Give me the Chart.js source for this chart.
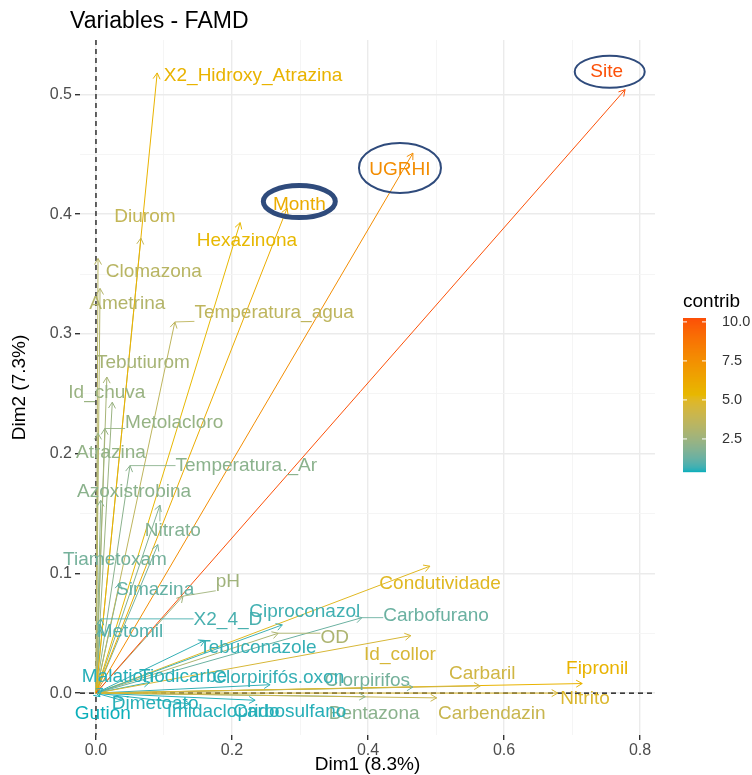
<!DOCTYPE html>
<html>
<head>
<meta charset="utf-8">
<script src="https://cdn.jsdelivr.net/npm/chart.js@4.4.1/dist/chart.umd.min.js"></script>
<style>
  html, body { margin: 0; padding: 0; background: #fff; }
</style>
</head>
<body>
<canvas id="famdChart" width="752" height="775"></canvas>
<script>
const variables = ['Site', 'UGRHI', 'Month', 'Hexazinona', 'X2_Hidroxy_Atrazina', 'Diurom', 'Clomazona',
  'Ametrina', 'Temperatura_agua', 'Tebutiurom', 'Id_chuva', 'Metolacloro', 'Atrazina', 'Temperatura._Ar',
  'Azoxistrobina', 'Nitrato', 'Tiametoxam', 'Simazina', 'pH', 'X2_4_D', 'Metomil', 'Ciproconazol',
  'Carbofurano', 'Tebuconazole', 'OD', 'Condutividade', 'Id_collor', 'Carbaril', 'Fipronil', 'Nitrito',
  'Carbendazin', 'Bentazona', 'Clorpirifos', 'Clorpirifós.oxon', 'Carbosulfano', 'Imidacloprido',
  'Dimetoato', 'Gution', 'Malation', 'Tiodicarbe'];
const dim1 = [0.778, 0.466, 0.281, 0.212, 0.090, 0.066, 0.003,
  0.006, 0.116, 0.016, 0.024, 0.013, 0.003, 0.050,
  0.007, 0.094, 0.091, 0.035, 0.128, 0.007, 0.006, 0.274,
  0.391, 0.160, 0.268, 0.491, 0.463, 0.565, 0.715, 0.679,
  0.501, 0.396, 0.466, 0.256, 0.234, 0.138,
  0.038, 0.006, 0.010, 0.079];
const dim2 = [0.504, 0.451, 0.405, 0.393, 0.518, 0.380, 0.363,
  0.338, 0.310, 0.264, 0.243, 0.221, 0.217, 0.190,
  0.161, 0.157, 0.124, 0.092, 0.081, 0.062, 0.053, 0.057,
  0.063, 0.044, 0.050, 0.106, 0.048, 0.006, 0.008, 0.000,
  -0.004, -0.003, 0.005, 0.007, -0.006, -0.009,
  -0.006, -0.003, 0.004, 0.009];
const contrib = [10.2, 7.6, 6.0, 5.3, 5.6, 3.8, 3.4,
  3.2, 3.6, 2.8, 2.4, 2.3, 2.2, 2.0,
  2.0, 1.8, 1.5, 1.2, 2.6, 0.8, 0.9, 0.7,
  1.3, 0.6, 3.0, 5.0, 4.6, 4.3, 5.6, 4.8,
  4.0, 2.0, 1.5, 0.6, 0.5, 0.5,
  0.5, 0.4, 0.5, 0.5];
// where ggrepel put each label (data units)
const labelDim1 = [0.751, 0.447, 0.299, 0.222, 0.231, 0.072, 0.085,
  0.046, 0.262, 0.069, 0.016, 0.115, 0.022, 0.221,
  0.056, 0.113, 0.028, 0.087, 0.194, 0.194, 0.050, 0.307,
  0.500, 0.238, 0.351, 0.506, 0.447, 0.568, 0.737, 0.719,
  0.582, 0.409, 0.399, 0.268, 0.285, 0.187,
  0.087, 0.010, 0.032, 0.128];
const labelDim2 = [0.519, 0.437, 0.408, 0.378, 0.516, 0.398, 0.352,
  0.325, 0.318, 0.276, 0.251, 0.226, 0.201, 0.190,
  0.168, 0.136, 0.111, 0.086, 0.093, 0.061, 0.051, 0.068,
  0.065, 0.038, 0.046, 0.091, 0.032, 0.016, 0.020, -0.005,
  -0.017, -0.017, 0.010, 0.013, -0.016, -0.016,
  -0.009, -0.017, 0.014, 0.014];
const circled = ['Site', 'UGRHI', 'Month'];
const contribMin = 0.38, contribMax = 10.25;
const legendTicks = [2.5, 5.0, 7.5, 10.0];
const gradientCols = ['#00AFBB', '#E7B800', '#FC4E07'];

const FONT = '"Liberation Sans", Arial, sans-serif';

// colour scale interpolated in Lab like ggplot
function hexToRgb(h) {
  return [1, 3, 5].map(i => parseInt(h.substr(i, 2), 16));
}
function rgbToLab(rgb) {
  const lin = rgb.map(v => { v /= 255; return v > 0.04045 ? Math.pow((v + 0.055) / 1.055, 2.4) : v / 12.92; });
  const X = (lin[0] * 0.4124 + lin[1] * 0.3576 + lin[2] * 0.1805) / 0.95047;
  const Y = (lin[0] * 0.2126 + lin[1] * 0.7152 + lin[2] * 0.0722);
  const Z = (lin[0] * 0.0193 + lin[1] * 0.1192 + lin[2] * 0.9505) / 1.08883;
  const f = t => t > 0.008856 ? Math.cbrt(t) : 7.787 * t + 16 / 116;
  return [116 * f(Y) - 16, 500 * (f(X) - f(Y)), 200 * (f(Y) - f(Z))];
}
function labToRgb(lab) {
  const fy = (lab[0] + 16) / 116, fx = fy + lab[1] / 500, fz = fy - lab[2] / 200;
  const g = t => t * t * t > 0.008856 ? t * t * t : (t - 16 / 116) / 7.787;
  const X = g(fx) * 0.95047, Y = g(fy), Z = g(fz) * 1.08883;
  const lin = [X * 3.2406 - Y * 1.5372 - Z * 0.4986, -X * 0.9689 + Y * 1.8758 + Z * 0.0415, X * 0.0557 - Y * 0.2040 + Z * 1.0570];
  return lin.map(v => {
    v = v > 0.0031308 ? 1.055 * Math.pow(v, 1 / 2.4) - 0.055 : 12.92 * v;
    return Math.max(0, Math.min(255, Math.round(v * 255)));
  });
}
const labCols = gradientCols.map(c => rgbToLab(hexToRgb(c)));
function contribColor(c) {
  let t = (c - contribMin) / (contribMax - contribMin);
  t = Math.max(0, Math.min(1, t));
  const seg = t < 0.5 ? 0 : 1;
  const u = t < 0.5 ? t / 0.5 : (t - 0.5) / 0.5;
  const a = labCols[seg], b = labCols[seg + 1];
  const rgb = labToRgb([a[0] + (b[0] - a[0]) * u, a[1] + (b[1] - a[1]) * u, a[2] + (b[2] - a[2]) * u]);
  return 'rgb(' + rgb.join(',') + ')';
}

// one line dataset per variable, from the origin to its coordinates
const datasets = variables.map((v, i) => ({
  label: v,
  data: [{ x: 0, y: 0 }, { x: dim1[i], y: dim2[i] }],
  borderColor: contribColor(contrib[i]),
  borderWidth: 1,
  pointRadius: 0,
  fill: false
}));

const famdPlugin = {
  id: 'famdExtras',
  beforeDatasetsDraw(chart) {
    const { ctx, chartArea, scales: { x, y } } = chart;
    ctx.save();
    ctx.strokeStyle = '#000';
    ctx.lineWidth = 1.2;
    ctx.setLineDash([5, 4]);
    ctx.beginPath();
    ctx.moveTo(x.getPixelForValue(0), chartArea.top);
    ctx.lineTo(x.getPixelForValue(0), chartArea.bottom);
    ctx.moveTo(chartArea.left, y.getPixelForValue(0));
    ctx.lineTo(chartArea.right, y.getPixelForValue(0));
    ctx.stroke();
    ctx.restore();
  },
  afterDatasetsDraw(chart) {
    const { ctx, scales: { x, y } } = chart;
    ctx.save();
    // arrow heads
    variables.forEach((v, i) => {
      const x0 = x.getPixelForValue(0), y0 = y.getPixelForValue(0);
      const x1 = x.getPixelForValue(dim1[i]), y1 = y.getPixelForValue(dim2[i]);
      const ang = Math.atan2(y1 - y0, x1 - x0);
      const len = 7, spread = Math.PI / 6;
      ctx.strokeStyle = contribColor(contrib[i]);
      ctx.lineWidth = 1;
      ctx.beginPath();
      ctx.moveTo(x1 - len * Math.cos(ang - spread), y1 - len * Math.sin(ang - spread));
      ctx.lineTo(x1, y1);
      ctx.lineTo(x1 - len * Math.cos(ang + spread), y1 - len * Math.sin(ang + spread));
      ctx.stroke();
    });
    // repelled labels with their segments
    ctx.font = '19px ' + FONT;
    ctx.textAlign = 'center';
    ctx.textBaseline = 'middle';
    variables.forEach((v, i) => {
      const col = contribColor(contrib[i]);
      const lx = x.getPixelForValue(labelDim1[i]), ly = y.getPixelForValue(labelDim2[i]);
      const px = x.getPixelForValue(dim1[i]), py = y.getPixelForValue(dim2[i]);
      const w = ctx.measureText(v).width;
      const bx = Math.max(lx - w / 2, Math.min(px, lx + w / 2));
      const by = Math.max(ly - 9, Math.min(py, ly + 9));
      const d = Math.hypot(px - bx, py - by);
      if (d > 16) {
        ctx.strokeStyle = col;
        ctx.lineWidth = 0.9;
        ctx.beginPath();
        ctx.moveTo(px, py);
        ctx.lineTo(bx, by);
        ctx.stroke();
      }
      ctx.fillStyle = col;
      ctx.fillText(v, lx, ly);
    });
    // highlight ellipses around the labels
    const ellipse = { Site: [35, 16, 2, 3, 0], UGRHI: [41, 25, 2, 0, -2], Month: [36, 16, 5, 0, -3] };
    ctx.strokeStyle = '#2F4B7C';
    circled.forEach(name => {
      const i = variables.indexOf(name);
      const [rx, ry, lw, dx, dy] = ellipse[name];
      const cx = x.getPixelForValue(labelDim1[i]) + dx, cy = y.getPixelForValue(labelDim2[i]) + dy;
      ctx.lineWidth = lw;
      ctx.beginPath();
      ctx.ellipse(cx, cy, rx, ry, 0, 0, Math.PI * 2);
      ctx.stroke();
    });
    ctx.restore();
  },
  afterDraw(chart) {
    const { ctx, chartArea } = chart;
    ctx.save();
    // title
    ctx.fillStyle = '#000';
    ctx.font = '23px ' + FONT;
    ctx.textAlign = 'left';
    ctx.textBaseline = 'middle';
    ctx.fillText('Variables - FAMD', 70, 22);
    // colour bar legend
    const barX = chartArea.right + 28, barTop = 318, barH = 154, barW = 23;
    ctx.font = '19px ' + FONT;
    ctx.fillText('contrib', barX, 302);
    for (let k = 0; k < barH; k++) {
      const val = contribMax - (k + 0.5) / barH * (contribMax - contribMin);
      ctx.fillStyle = contribColor(val);
      ctx.fillRect(barX, barTop + k, barW, 1.2);
    }
    ctx.font = '14.5px ' + FONT;
    legendTicks.forEach(t => {
      const ty = barTop + (contribMax - t) / (contribMax - contribMin) * barH;
      ctx.strokeStyle = '#fff';
      ctx.lineWidth = 1;
      ctx.beginPath();
      ctx.moveTo(barX, ty); ctx.lineTo(barX + 4, ty);
      ctx.moveTo(barX + barW - 4, ty); ctx.lineTo(barX + barW, ty);
      ctx.stroke();
      ctx.fillStyle = '#333';
      ctx.fillText(t.toFixed(1), barX + barW + 16, ty);
    });
    ctx.restore();
  }
};

const isMajorX = v => Math.abs(v * 5 - Math.round(v * 5)) < 1e-6;
const isMajorY = v => Math.abs(v * 10 - Math.round(v * 10)) < 1e-6;

new Chart(document.getElementById('famdChart').getContext('2d'), {
  type: 'line',
  data: { datasets: datasets },
  options: {
    responsive: false,
    animation: false,
    devicePixelRatio: 1,
    layout: { padding: { top: 40, right: 97, left: 0, bottom: 0 } },
    plugins: { legend: { display: false }, tooltip: { enabled: false } },
    scales: {
      x: {
        type: 'linear',
        min: -0.0235,
        max: 0.822,
        afterFit: s => { s.height = 40; },
        ticks: {
          stepSize: 0.1,
          includeBounds: false,
          autoSkip: false,
          maxRotation: 0,
          color: '#4D4D4D',
          font: { family: FONT, size: 16 },
          padding: 1,
          callback: v => isMajorX(v) ? v.toFixed(1) : ''
        },
        grid: {
          color: c => isMajorX(c.tick.value) ? '#EBEBEB' : '#F4F4F4',
          lineWidth: c => isMajorX(c.tick.value) ? 1.4 : 0.9,
          tickColor: c => isMajorX(c.tick.value) ? '#333' : 'rgba(0,0,0,0)',
          tickLength: 5
        },
        border: { display: false },
        title: {
          display: true,
          text: 'Dim1 (8.3%)',
          color: '#000',
          font: { family: FONT, size: 19 },
          padding: { top: 0, bottom: -1 }
        }
      },
      y: {
        type: 'linear',
        min: -0.035,
        max: 0.5455,
        afterFit: s => { s.width = 80; },
        ticks: {
          stepSize: 0.05,
          includeBounds: false,
          autoSkip: false,
          color: '#4D4D4D',
          font: { family: FONT, size: 16 },
          padding: 3,
          callback: v => isMajorY(v) ? v.toFixed(1) : ''
        },
        grid: {
          color: c => isMajorY(c.tick.value) ? '#EBEBEB' : '#F4F4F4',
          lineWidth: c => isMajorY(c.tick.value) ? 1.4 : 0.9,
          tickColor: c => isMajorY(c.tick.value) ? '#333' : 'rgba(0,0,0,0)',
          tickLength: 5
        },
        border: { display: false },
        title: {
          display: true,
          text: 'Dim2 (7.3%)',
          color: '#000',
          font: { family: FONT, size: 19 },
          padding: { top: 8, bottom: 0 }
        }
      }
    }
  },
  plugins: [famdPlugin]
});
</script>
</body>
</html>
